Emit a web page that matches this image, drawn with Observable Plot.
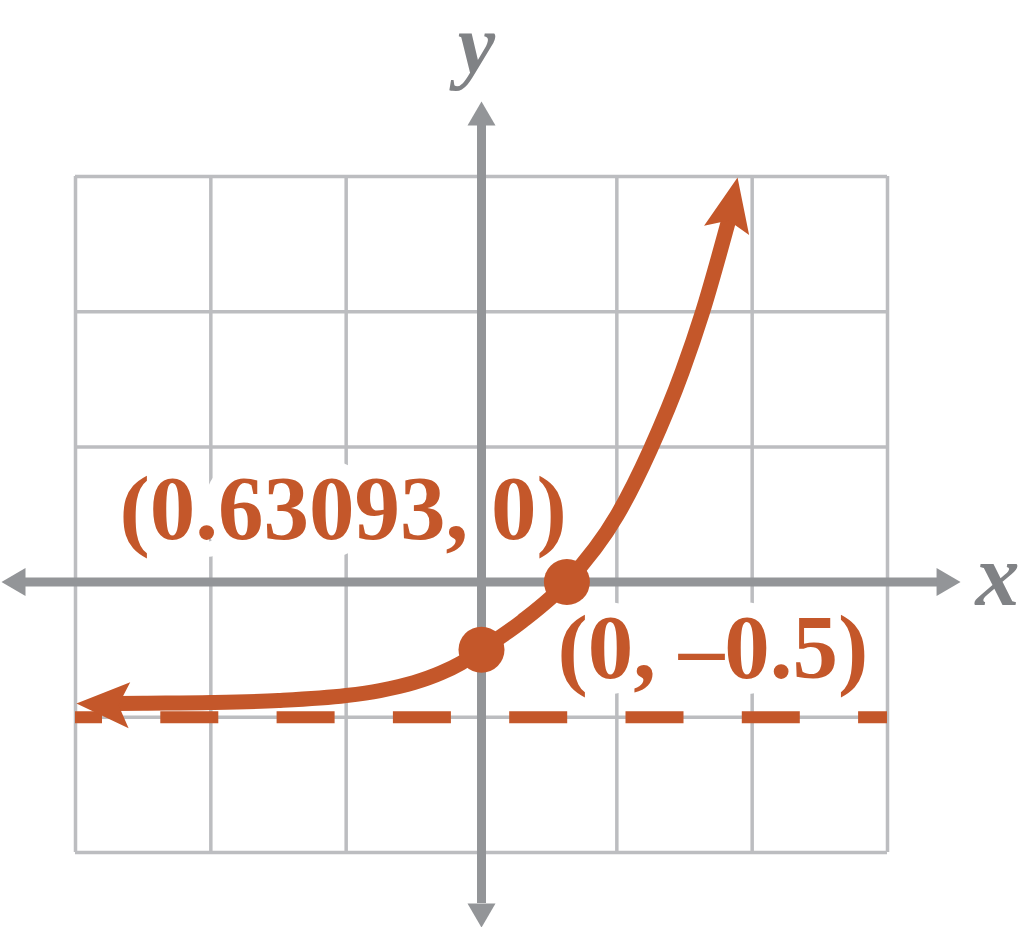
<!DOCTYPE html>
<html>
<head>
<meta charset="utf-8">
<script src="https://cdn.jsdelivr.net/npm/d3@7"></script>
<script src="https://cdn.jsdelivr.net/npm/@observablehq/plot@0.6"></script>
<style>
  html, body { margin: 0; padding: 0; background: #ffffff; }
  #chart svg { display: block; }
</style>
</head>
<body>
<div id="chart"></div>
<script>
// ---- data ----
const gridX = [-3, -2, -1, 0, 1, 2, 3];
const gridY = [-2, -1, 0, 1, 2, 3];
const asymptoteY = [-1];
const curveX = [-2.70, -2.5, -2.0, -1.5, -1.0, -0.75, -0.5, -0.3, -0.15, 0, 0.3, 0.631, 1.0, 1.247, 1.485, 1.631, 1.833];
const curveY = [-0.898, -0.896, -0.891, -0.876, -0.839, -0.802, -0.744, -0.672, -0.598, -0.5, -0.29, 0, 0.49, 0.98, 1.56, 1.99, 2.70];
const curveTipLeft = [-2.993, -0.898];
const curveTipTop = [1.892, 2.993];
const pointX = [0.63093, 0];
const pointY = [0, -0.5];
const pointLabels = ["(0.63093, 0)", "(0, \u20130.5)"];
const xAxisTips = [-3.547, 3.54];
const yAxisTips = [-2.555, 3.555];
const xAxisBases = [-3.377, 3.37];
const yAxisBases = [-2.378, 3.378];
const axisNames = ["x", "y"];

// ---- styles ----
const ORANGE = "#c4572a";
const AXIS = "#939598";
const GRID = "#bcbdc0";
const LABEL = "#808285";
const SERIF = "Liberation Serif, Times New Roman, serif";

function arrowSymbol(len, half, notch, angleDeg) {
  const a = angleDeg * Math.PI / 180, c = Math.cos(a), s = Math.sin(a);
  const pts = [[0, 0], [half, len], [0, notch], [-half, len]].map(([px, py]) => [px * c - py * s, px * s + py * c]);
  return {
    draw(ctx) {
      ctx.moveTo(pts[0][0], pts[0][1]);
      for (let i = 1; i < pts.length; i++) ctx.lineTo(pts[i][0], pts[i][1]);
      ctx.closePath();
    }
  };
}

const curve = curveX.map((x, i) => ({x, y: curveY[i]}));
const points = pointX.map((x, i) => ({x, y: pointY[i], label: pointLabels[i]}));

const triangle = (ang) => arrowSymbol(24, 14, 24, ang);

const chart = Plot.plot({
  width: 1024,
  height: 927,
  marginLeft: 75,
  marginRight: 137,
  marginTop: 176,
  marginBottom: 75,
  x: {domain: [-3, 3], axis: null},
  y: {domain: [-2, 3], axis: null},
  style: {background: "#ffffff", overflow: "visible"},
  marks: [
    // grid
    Plot.ruleX(gridX, {y1: gridY[0], y2: gridY[gridY.length - 1], stroke: GRID, strokeWidth: 3.5}),
    Plot.ruleY(gridY, {x1: gridX[0], x2: gridX[gridX.length - 1], stroke: GRID, strokeWidth: 3.5}),
    // point labels with white backing
    Plot.text([points[0]], {x: "x", y: "y", text: "label", textAnchor: "end", lineAnchor: "bottom", dy: -43,
      fontSize: 91, fontWeight: "bold", fontFamily: SERIF, fill: ORANGE,
      stroke: "white", strokeWidth: 34, strokeLinejoin: "round", paintOrder: "stroke"}),
    Plot.text([points[1]], {x: "x", y: "y", text: "label", textAnchor: "start", lineAnchor: "bottom", dx: 76, dy: 28,
      fontSize: 91, fontWeight: "bold", fontFamily: SERIF, fill: ORANGE,
      stroke: "white", strokeWidth: 30, strokeLinejoin: "round", paintOrder: "stroke"}),
    // axes
    Plot.ruleY([0], {x1: xAxisBases[0], x2: xAxisBases[1], stroke: AXIS, strokeWidth: 9}),
    Plot.ruleX([0], {y1: yAxisBases[0], y2: yAxisBases[1], stroke: AXIS, strokeWidth: 9}),
    Plot.dot([[xAxisTips[0], 0]], {x: d => d[0], y: d => d[1], symbol: triangle(-90), fill: AXIS, stroke: "none"}),
    Plot.dot([[xAxisTips[1], 0]], {x: d => d[0], y: d => d[1], symbol: triangle(90), fill: AXIS, stroke: "none"}),
    Plot.dot([[0, yAxisTips[1]]], {x: d => d[0], y: d => d[1], symbol: triangle(0), fill: AXIS, stroke: "none"}),
    Plot.dot([[0, yAxisTips[0]]], {x: d => d[0], y: d => d[1], symbol: triangle(180), fill: AXIS, stroke: "none"}),
    // asymptote
    Plot.ruleY(asymptoteY, {x1: gridX[0], x2: gridX[gridX.length - 1], stroke: ORANGE, strokeWidth: 12,
      strokeDasharray: "58,58.3", strokeDashoffset: 31}),
    // curve
    Plot.line(curve, {x: "x", y: "y", curve: "monotone-x", stroke: ORANGE, strokeWidth: 15, strokeLinecap: "butt"}),
    Plot.dot([curveTipLeft], {x: d => d[0], y: d => d[1], symbol: arrowSymbol(53, 23, 42, -88), fill: ORANGE, stroke: "none"}),
    Plot.dot([curveTipTop], {x: d => d[0], y: d => d[1], symbol: arrowSymbol(54, 23, 44, 11.7), fill: ORANGE, stroke: "none"}),
    // points
    Plot.dot(points, {x: "x", y: "y", r: 23, fill: ORANGE, stroke: "none"}),
    // axis names
    Plot.text([axisNames[0]], {x: xAxisTips[1], y: 0, text: d => d, textAnchor: "start", lineAnchor: "bottom", dx: 15, dy: 23,
      fontSize: 88, fontWeight: "bold", fontStyle: "italic", fontFamily: SERIF, fill: LABEL}),
    Plot.text([axisNames[1]], {x: 0, y: yAxisTips[1], text: d => d, textAnchor: "middle", lineAnchor: "bottom", dx: -5, dy: -28,
      fontSize: 84, fontWeight: "bold", fontStyle: "italic", fontFamily: SERIF, fill: LABEL})
  ]
});
document.getElementById("chart").appendChild(chart);
</script>
</body>
</html>
